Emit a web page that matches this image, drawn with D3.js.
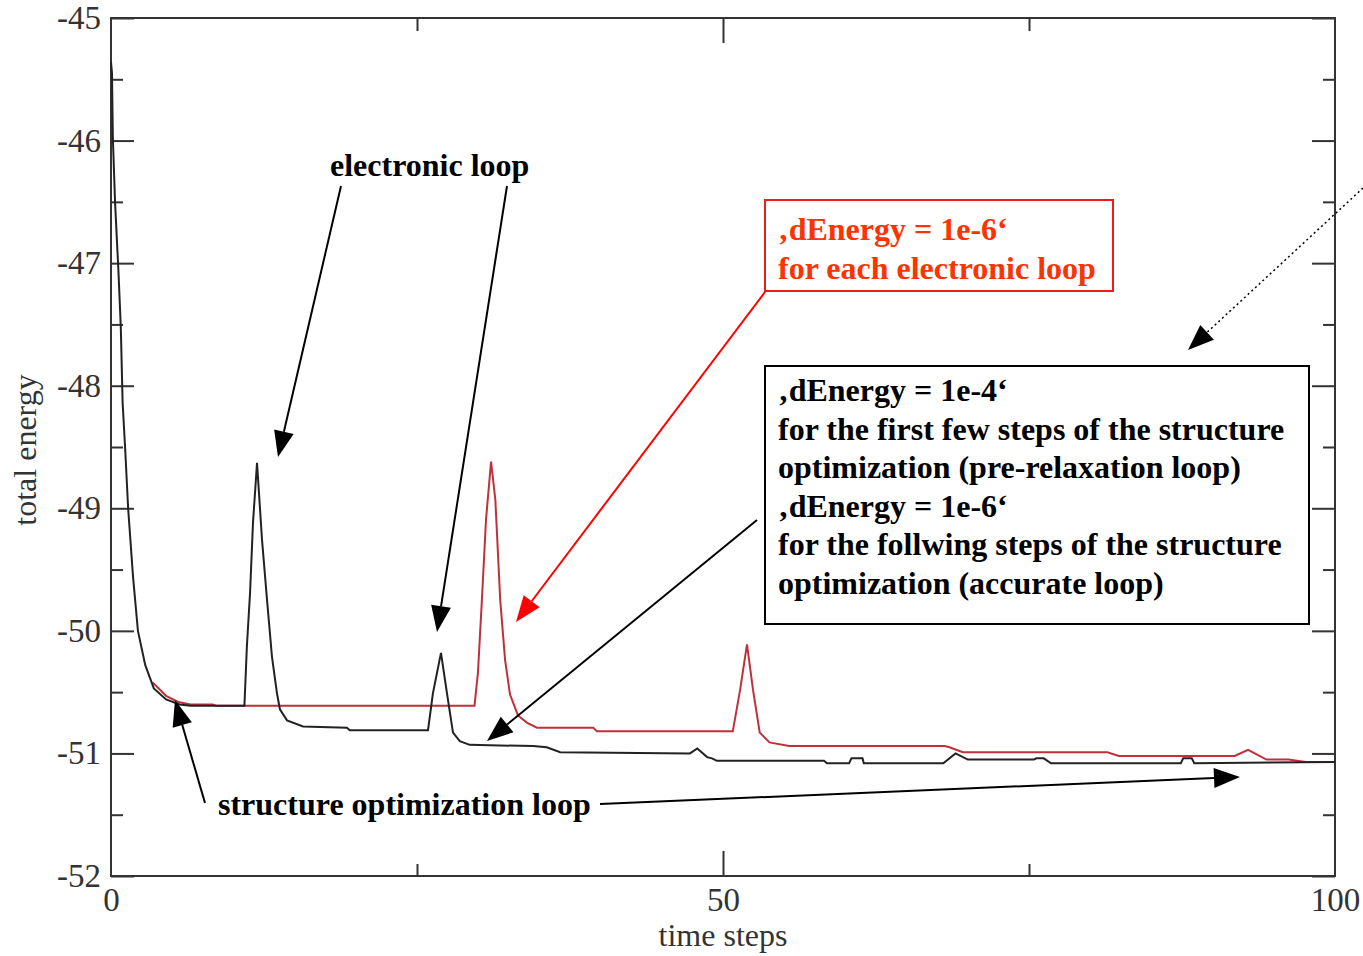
<!DOCTYPE html>
<html>
<head>
<meta charset="utf-8">
<script src="https://cdn.jsdelivr.net/npm/d3@7"></script>
<style>
  body { margin: 0; background: #fff; }
  svg text { font-family: "Liberation Serif", "Times New Roman", serif; }
</style>
</head>
<body>
<div id="chart"></div>
<script>
// black curve: time step / total energy
var blackSteps = [0, 0.08, 0.15, 0.33, 0.6, 0.8, 0.95, 1.15, 1.4, 1.8, 2.2, 2.8, 3.5, 4.5, 5.6, 6.5, 10.9,
  11.1, 11.36, 11.6, 11.93, 12.34, 12.75, 13.15, 13.56, 13.8, 14.38, 15.69, 19.28, 19.5, 25.9,
  26.3, 26.96, 27.45, 27.94, 28.5, 29.3, 34.5, 35.6, 36.7, 47.3, 47.9, 48.7, 49.1, 49.5, 58.25, 58.5,
  60.3, 60.5, 61.4, 61.5, 68.0, 69.0, 70.0, 75.4, 75.6, 76.2, 76.8, 87.4, 87.6, 88.3, 88.5, 100];
var blackEnergy = [-45.36, -45.45, -45.97, -46.5, -47.05, -47.52, -48.14, -48.5, -49.0, -49.56, -50.0, -50.28, -50.47, -50.56, -50.6, -50.61, -50.61,
  -50.13, -49.69, -49.12, -48.63, -49.26, -49.75, -50.21, -50.51, -50.64, -50.73, -50.78, -50.79, -50.81, -50.81,
  -50.51, -50.18, -50.51, -50.83, -50.9, -50.93, -50.94, -50.95, -50.99, -51.0, -50.96, -51.03, -51.04, -51.06, -51.06, -51.08,
  -51.08, -51.04, -51.04, -51.08, -51.08, -51.0, -51.05, -51.05, -51.04, -51.04, -51.08, -51.08, -51.04, -51.04, -51.08, -51.07];

// red curve
var redSteps = [3.4, 4.5, 5.5, 6.5, 8.3, 8.6, 29.7, 29.98, 30.3, 30.64, 31.05, 31.4, 31.8, 32.2, 32.6, 33.25, 34.0, 34.8,
  39.4, 39.7, 50.8, 51.4, 51.96, 52.45, 53.0, 53.8, 55.4, 68.1, 68.5, 69.6, 81.4, 82.35, 91.8, 92.9, 94.4, 96.2, 97.6, 100];
var redEnergy = [-50.42, -50.53, -50.58, -50.6, -50.6, -50.61, -50.61, -50.34, -49.75, -49.09, -48.62, -48.93, -49.75, -50.24, -50.52, -50.69, -50.75, -50.79,
  -50.79, -50.82, -50.82, -50.48, -50.11, -50.48, -50.83, -50.91, -50.94, -50.94, -50.95, -50.99, -50.99, -51.02, -51.02, -50.97, -51.05, -51.05, -51.07, -51.07];

var yMajor = [-52, -51, -50, -49, -48, -47, -46, -45];
var yMinor = [-51.5, -50.5, -49.5, -48.5, -47.5, -46.5, -45.5];
var xLabelled = [0, 50, 100];
var xMajor = [50];
var xMinor = [25, 75];

var redBoxLines = ["\u201AdEnergy = 1e-6\u2018", "for each electronic loop"];
var blackBoxLines = ["\u201AdEnergy = 1e-4\u2018",
  "for the first few steps of the structure",
  "optimization (pre-relaxation loop)",
  "\u201AdEnergy = 1e-6\u2018",
  "for the follwing steps of the structure",
  "optimization (accurate loop)"];

var margin = {top: 18, left: 111},
    width = 1224,
    height = 858;

var svg = d3.select("#chart").append("svg")
  .attr("width", 1363)
  .attr("height", 956);

var g = svg.append("g")
  .attr("transform", "translate(" + margin.left + "," + margin.top + ")");

var xScale = d3.scaleLinear().domain([0, 100]).range([0, width]);
var yScale = d3.scaleLinear().domain([-52, -45]).range([height, 0]);

// plain hyphen instead of d3's unicode minus
var plain = function(d) { return String(d); };

function styleAxis(sel) {
  sel.select(".domain").remove();
  sel.selectAll(".tick line").attr("stroke", "#333").attr("stroke-width", 2);
  sel.selectAll(".tick text")
    .attr("fill", "#333")
    .style("font-family", "'Liberation Serif', 'Times New Roman', serif")
    .style("font-size", "33px");
}

// left axis with labels
g.append("g")
  .call(d3.axisLeft(yScale).tickValues(yMajor).tickSize(-23).tickPadding(10).tickFormat(plain))
  .call(styleAxis);
g.append("g")
  .call(d3.axisLeft(yScale).tickValues(yMinor).tickSize(-12).tickFormat(""))
  .call(styleAxis);
// right axis
g.append("g").attr("transform", "translate(" + width + ",0)")
  .call(d3.axisRight(yScale).tickValues(yMajor).tickSize(-23).tickFormat(""))
  .call(styleAxis);
g.append("g").attr("transform", "translate(" + width + ",0)")
  .call(d3.axisRight(yScale).tickValues(yMinor).tickSize(-12).tickFormat(""))
  .call(styleAxis);
// bottom axis
g.append("g").attr("transform", "translate(0," + height + ")")
  .call(d3.axisBottom(xScale).tickValues(xLabelled).tickSize(0).tickPadding(12).tickFormat(plain))
  .call(styleAxis);
g.append("g").attr("transform", "translate(0," + height + ")")
  .call(d3.axisBottom(xScale).tickValues(xMajor).tickSize(-25).tickFormat(""))
  .call(styleAxis);
g.append("g").attr("transform", "translate(0," + height + ")")
  .call(d3.axisBottom(xScale).tickValues(xMinor).tickSize(-12).tickFormat(""))
  .call(styleAxis);
// top axis
g.append("g")
  .call(d3.axisTop(xScale).tickValues(xMajor).tickSize(-25).tickFormat(""))
  .call(styleAxis);
g.append("g")
  .call(d3.axisTop(xScale).tickValues(xMinor).tickSize(-13).tickFormat(""))
  .call(styleAxis);

// frame
g.append("rect")
  .attr("width", width)
  .attr("height", height)
  .attr("fill", "none")
  .attr("stroke", "#333")
  .attr("stroke-width", 2);

// axis titles
svg.append("text")
  .attr("x", margin.left + width / 2)
  .attr("y", 946)
  .attr("text-anchor", "middle")
  .attr("fill", "#333")
  .style("font-size", "32px")
  .text("time steps");

svg.append("text")
  .attr("transform", "translate(36," + 450 + ") rotate(-90)")
  .attr("text-anchor", "middle")
  .attr("fill", "#333")
  .style("font-size", "32px")
  .text("total energy");

// curves
var line = d3.line()
  .x(function(d) { return xScale(d[0]); })
  .y(function(d) { return yScale(d[1]); });

var redData = redSteps.map(function(t, i) { return [t, redEnergy[i]]; });
var blackData = blackSteps.map(function(t, i) { return [t, blackEnergy[i]]; });

g.append("path")
  .datum(redData)
  .attr("d", line)
  .attr("fill", "none")
  .attr("stroke", "#c0303a")
  .attr("stroke-width", 2);

g.append("path")
  .datum(blackData)
  .attr("d", line)
  .attr("fill", "none")
  .attr("stroke", "#222")
  .attr("stroke-width", 2);

// annotations
function arrow(x1, y1, x2, y2, color, dashed) {
  var ang = Math.atan2(y2 - y1, x2 - x1),
      len = 26, half = 10;
  var bx = x2 - len * Math.cos(ang), by = y2 - len * Math.sin(ang);
  svg.append("line")
    .attr("x1", x1).attr("y1", y1)
    .attr("x2", bx).attr("y2", by)
    .attr("stroke", color)
    .attr("stroke-width", dashed ? 1.5 : 2)
    .attr("stroke-dasharray", dashed ? "2,3" : null);
  var pts = [
    [x2, y2],
    [bx + half * Math.sin(ang), by - half * Math.cos(ang)],
    [bx - half * Math.sin(ang), by + half * Math.cos(ang)]
  ];
  svg.append("polygon")
    .attr("points", pts.map(function(p) { return p.join(","); }).join(" "))
    .attr("fill", color);
}

function label(x, y, txt, color) {
  svg.append("text")
    .attr("x", x).attr("y", y)
    .attr("fill", color)
    .style("font-size", "32px")
    .style("font-weight", "bold")
    .text(txt);
}

label(330, 176, "electronic loop", "#000");
arrow(341, 186, 278, 457, "#000");
arrow(507, 186, 437, 632, "#000");

svg.append("rect")
  .attr("x", 765).attr("y", 200)
  .attr("width", 348).attr("height", 91)
  .attr("fill", "none")
  .attr("stroke", "#ee1c1c")
  .attr("stroke-width", 2);
redBoxLines.forEach(function(t, i) {
  label(778, 240 + i * 39, t, "#ff3300");
});
arrow(765, 292, 516, 622, "#ff0000");

svg.append("rect")
  .attr("x", 765).attr("y", 366)
  .attr("width", 544).attr("height", 258)
  .attr("fill", "none")
  .attr("stroke", "#000")
  .attr("stroke-width", 2);
blackBoxLines.forEach(function(t, i) {
  label(778, 401 + i * 38.6, t, "#000");
});
arrow(757, 520, 487, 741, "#000");
arrow(1363, 188, 1188, 350, "#000", true);

label(218, 815, "structure optimization loop", "#000");
arrow(205, 803, 175, 700, "#000");
arrow(600, 804, 1240, 777, "#000");
</script>
</body>
</html>
